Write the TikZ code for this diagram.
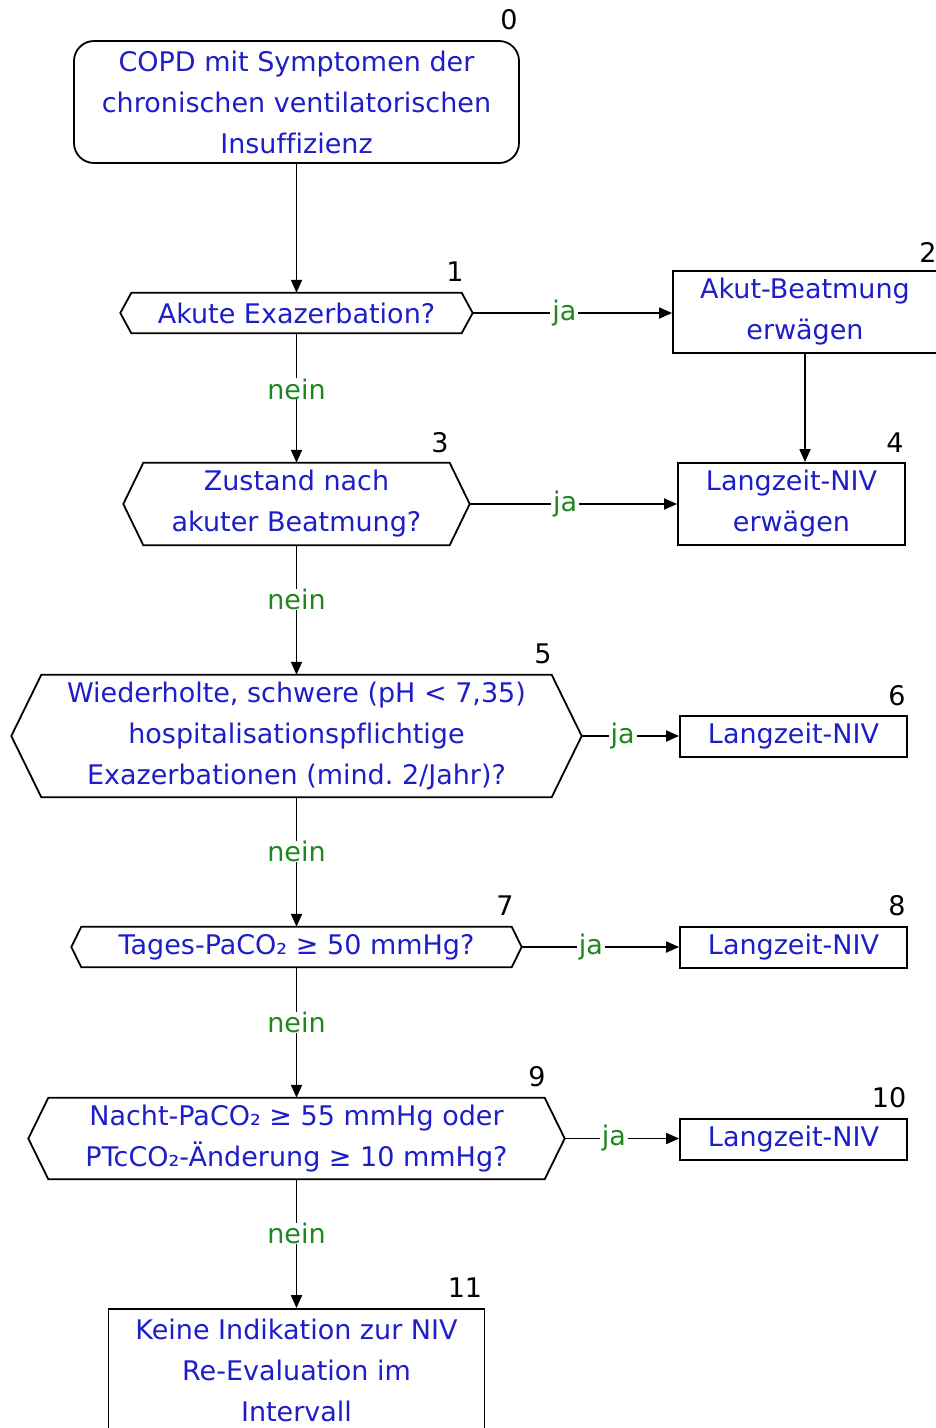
\documentclass[tikz,border=0pt]{standalone}
\usepackage{fontspec}
\setmainfont[Ligatures=NoCommon]{DejaVu Sans}
\usetikzlibrary{arrows.meta}
\definecolor{txtblue}{RGB}{30,30,200}
\definecolor{lblgreen}{RGB}{30,135,30}
\frenchspacing
\newcommand\myhex[2]{\draw[line width=1.8pt] (#1.west) -- ([xshift=#2pt]#1.north west) -- ([xshift=-#2pt]#1.north east) -- (#1.east) -- ([xshift=-#2pt]#1.south east) -- ([xshift=#2pt]#1.south west) -- cycle;}
\begin{document}
\begin{tikzpicture}[x=1pt,y=-1pt,
  base/.style={font=\fontsize{27}{41}\selectfont\frenchspacing, text=txtblue, inner sep=0pt, align=center},
  rbox/.style={base, draw, line width=1.8pt, rounded corners=20pt},
  sbox/.style={base, draw, line width=1.8pt},
  hexa/.style={base},
  num/.style={font=\fontsize{27}{41}\selectfont, inner sep=0pt},
  arr/.style={line width=1.8pt, -{Triangle[length=13pt,width=11pt]}},
  lbl/.style={font=\fontsize{27}{41}\selectfont, text=lblgreen, fill=white, inner xsep=2pt, inner ysep=0pt},
]
\useasboundingbox[fill=white] (0,0) rectangle (936,1428);

% main nodes
\node[rbox, minimum width=445pt, minimum height=122pt] (n0) at (296.5,102) {COPD mit Symptomen der\\chronischen ventilatorischen\\Insuffizienz};
\node[hexa, minimum width=352pt, minimum height=40pt] (n1) at (296.5,313) {Akute Exazerbation?};
\node[sbox, minimum width=264pt, minimum height=82pt] (n2) at (805,312) {Akut-Beatmung\\erwägen};
\node[hexa, minimum width=346pt, minimum height=82pt] (n3) at (296.5,504) {Zustand nach\\akuter Beatmung?};
\node[sbox, minimum width=227pt, minimum height=82pt] (n4) at (791.5,504) {Langzeit-NIV\\erwägen};
\node[hexa, minimum width=570pt, minimum height=122pt] (n5) at (296.5,736) {Wiederholte, schwere (pH < 7,35)\\hospitalisationspflichtige\\Exazerbationen (mind. 2/Jahr)?};
\node[sbox, minimum width=227pt, minimum height=41pt] (n6) at (793.5,736.5) {Langzeit-NIV};
\node[hexa, minimum width=450pt, minimum height=40pt] (n7) at (296.5,947) {Tages-PaCO₂ ≥ 50 mmHg?};
\node[sbox, minimum width=227pt, minimum height=41pt] (n8) at (793.5,947.5) {Langzeit-NIV};
\node[hexa, minimum width=536pt, minimum height=81pt] (n9) at (296.5,1138.5) {Nacht-PaCO₂ ≥ 55 mmHg oder\\PTcCO₂-Änderung ≥ 10 mmHg?};
\node[sbox, minimum width=227pt, minimum height=41pt] (n10) at (793.5,1139.5) {Langzeit-NIV};
\node[sbox, minimum width=376pt, minimum height=122pt] (n11) at (296.5,1370) {Keine Indikation zur NIV\\Re-Evaluation im\\Intervall};

\myhex{n1}{11}
\myhex{n3}{20}
\myhex{n5}{30}
\myhex{n7}{10}
\myhex{n9}{20}

% numbers
\node[num] (l0) at (509,20) {0};
\node[num] (l1) at (455,272) {1};
\node[num] (l2) at (928,252) {2};
\node[num] (l3) at (440,443) {3};
\node[num] (l4) at (895,443) {4};
\node[num] (l5) at (543,654) {5};
\node[num] (l6) at (897,696) {6};
\node[num] (l7) at (505,906) {7};
\node[num] (l8) at (897,906) {8};
\node[num] (l9) at (537,1077) {9};
\node[num] (l10) at (889,1098) {10};
\node[num] (l11) at (465,1288) {11};

% connectors
\draw[arr] (n0.south) -- (n1.north);
\draw[arr] (n1.east) -- node[lbl,pos=.46]{ja} (n1.east -| n2.west);
\draw[arr] (n1.south) -- node[lbl,pos=.43]{nein} (n3.north);
\draw[arr] (n2.south) -- (n2.south |- n4.north);
\draw[arr] (n3.east) -- node[lbl,pos=.46]{ja} (n3.east -| n4.west);
\draw[arr] (n3.south) -- node[lbl,pos=.42]{nein} (n5.north);
\draw[arr] (n5.east) -- node[lbl,pos=.42]{ja} (n5.east -| n6.west);
\draw[arr] (n5.south) -- node[lbl,pos=.42]{nein} (n7.north);
\draw[arr] (n7.east) -- node[lbl,pos=.44]{ja} (n7.east -| n8.west);
\draw[arr] (n7.south) -- node[lbl,pos=.42]{nein} (n9.north);
\draw[arr] (n9.east) -- node[lbl,pos=.43]{ja} (n9.east -| n10.west);
\draw[arr] (n9.south) -- node[lbl,pos=.42]{nein} (n11.north);
\end{tikzpicture}
\end{document}
